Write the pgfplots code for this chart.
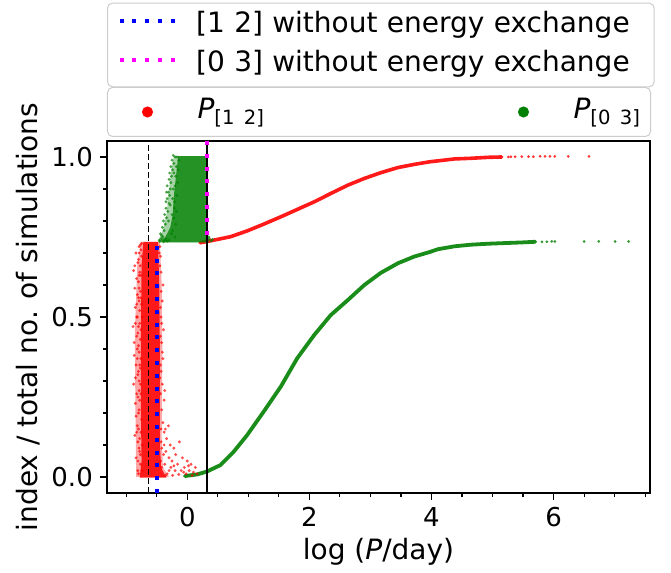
\documentclass[border=0pt]{standalone}
\usepackage{fontspec}
\setmainfont{DejaVu Sans}
\usepackage{pgfplots}
\pgfplotsset{compat=1.18}
\definecolor{mplgreen}{RGB}{0,128,0}
\definecolor{mplred}{RGB}{255,0,0}
\definecolor{mplblue}{RGB}{0,0,255}
\definecolor{mplmag}{RGB}{255,0,255}
\definecolor{legframe}{RGB}{204,204,204}
\newcommand{\labfont}{\fontsize{28bp}{32bp}\selectfont}
\newcommand{\tickfont}{\fontsize{26bp}{30bp}\selectfont}
\newcommand{\subfont}{\fontsize{19.6bp}{22bp}\selectfont}
\pgfplotsset{
  myaxis/.style={
    at={(107bp,80bp)}, anchor=south west,
    scale only axis, width=543bp, height=352bp,
    xmin=-1.316, xmax=7.58, ymin=-0.05, ymax=1.05,
  },
  legframe/.style={
    draw=legframe, line width=1bp, rounded corners=5bp, fill=white,
  },
}
\begin{document}
\begin{tikzpicture}
\useasboundingbox (0,0) rectangle (671bp,573bp);
\begin{axis}[myaxis,
  axis line style={line width=1.1bp},
  every tick/.style={line width=1.1bp, black},
  tick align=outside,
  major tick length=7bp, minor tick length=4bp,
  tick pos=left,
  xtick={0,2,4,6},
  minor xtick={-1,-0.5,0.5,1,1.5,2.5,3,3.5,4.5,5,5.5,6.5,7,7.5},
  ytick={0,0.5,1},
  minor ytick={0.1,0.2,0.3,0.4,0.6,0.7,0.8,0.9},
  /pgf/number format/assume math mode=true,
  xticklabel style={font=\tickfont, anchor=north, inner sep=0pt, yshift=-7bp},
  yticklabel style={font=\tickfont, anchor=east, inner sep=0pt, xshift=-7bp,
    /pgf/number format/.cd, fixed, fixed zerofill, precision=1},
  xlabel={log (\textit{P}/day)},
  xlabel style={at={(axis description cs:0.5,-0.1884)}, anchor=base, font=\labfont},
  ylabel={index / total no. of simulations},
  ylabel style={at={(axis description cs:-0.1271,0.5)}, anchor=base, font=\labfont},
  legend columns=2,
  legend style={legframe, at={(axis description cs:0,1.0114)}, anchor=south west,
    inner xsep=10bp, inner ysep=10.5bp, column sep=20bp,
    /tikz/every even column/.append style={column sep=229bp},
    nodes={inner sep=0pt, text width=67bp, align=left, text height=21bp, text depth=7bp, font=\labfont}},
]
% ---- P[1 2] : cloud, outer (less dense) band and dense core
\addplot[fill=mplred, draw=none, fill opacity=0.35, forget plot] coordinates {
(-0.84,0.0) (-0.30,0.0) (-0.40,0.03) (-0.42,0.12) (-0.41,0.40) (-0.42,0.60)
(-0.45,0.735) (-0.76,0.735) (-0.82,0.66) (-0.86,0.45) (-0.85,0.20) (-0.84,0.05)
} -- cycle;
\addplot[fill=mplred, draw=none, fill opacity=0.85, forget plot] coordinates {
(-0.78,-0.002) (-0.34,-0.002) (-0.38,0.01) (-0.43,0.03) (-0.45,0.10) (-0.45,0.40)
(-0.46,0.60) (-0.48,0.735) (-0.72,0.735) (-0.75,0.66) (-0.76,0.45) (-0.76,0.20) (-0.75,0.05)
} -- cycle;
% ---- P[1 2] : sorted part
\addplot[mplred, line width=3.6bp, opacity=0.9, line cap=round, line join=round, forget plot] coordinates {
(0.21,0.732) (0.43,0.740) (0.71,0.751) (0.98,0.769) (1.25,0.790) (1.53,0.813) (1.80,0.836)
(2.08,0.860) (2.35,0.886) (2.63,0.912) (2.90,0.933) (3.17,0.951) (3.45,0.967) (3.72,0.977)
(3.97,0.985) (4.11,0.988) (4.38,0.994) (4.65,0.996) (4.93,0.999) (5.15,1.000)
};
\addplot[color=mplred, only marks, mark=*, mark size=1.5bp, mark options={draw opacity=0, fill opacity=0.8}, forget plot] coordinates {
(5.26,1.000) (5.30,1.001) (5.37,1.001) (5.48,1.001) (5.59,1.001) (5.67,1.001) (5.78,1.002)
(5.86,1.002) (5.94,1.002) (6.02,1.002) (6.24,1.002) (6.58,1.002)
};
% ---- P[1 2] : scattered points round the cloud
\addplot[color=mplred, only marks, mark=*, mark size=1.6bp, mark options={draw opacity=0, fill opacity=0.7},
  legend image code/.code={\path[draw=none, fill=none] (0bp,-6bp) rectangle (60bp,6bp); \fill[mplred] (30bp,0bp) circle (5bp);}] coordinates {
(-0.81,0.02) (-0.84,0.06) (-0.79,0.09) (-0.86,0.13) (-0.82,0.16) (-0.80,0.20) (-0.85,0.23)
(-0.83,0.26) (-0.88,0.29) (-0.81,0.32) (-0.84,0.35) (-0.87,0.38) (-0.80,0.41) (-0.83,0.44)
(-0.89,0.47) (-0.82,0.50) (-0.85,0.53) (-0.80,0.56) (-0.86,0.59) (-0.83,0.62) (-0.88,0.645)
(-0.81,0.67) (-0.79,0.70) (-0.77,0.725) (-0.84,0.19) (-0.82,0.37) (-0.85,0.48) (-0.80,0.61)
(-0.87,0.42) (-0.81,0.11) (-0.83,0.54) (-0.79,0.30) (-0.86,0.66) (-0.80,0.47)
(-0.77,0.04) (-0.76,0.14) (-0.78,0.24) (-0.77,0.34) (-0.79,0.39) (-0.76,0.46) (-0.78,0.52)
(-0.77,0.58) (-0.76,0.63) (-0.75,0.69) (-0.78,0.12) (-0.79,0.27) (-0.77,0.43) (-0.78,0.64)
(-0.76,0.71) (-0.80,0.15) (-0.79,0.55) (-0.78,0.08)
(-0.74,0.02) (-0.77,0.07) (-0.81,0.05) (-0.75,0.18) (-0.79,0.21) (-0.83,0.14) (-0.77,0.29)
(-0.80,0.33) (-0.76,0.37) (-0.82,0.40) (-0.78,0.48) (-0.81,0.45) (-0.75,0.54) (-0.79,0.59)
(-0.82,0.57) (-0.77,0.66) (-0.80,0.68) (-0.75,0.73) (-0.79,0.72) (-0.84,0.70) (-0.81,0.25)
(-0.85,0.31) (-0.78,0.35) (-0.83,0.50) (-0.79,0.63) (-0.74,0.10) (-0.76,0.26) (-0.74,0.50)
(-0.76,0.56) (-0.80,0.01)
(-0.42,0.03) (-0.39,0.07) (-0.43,0.11) (-0.40,0.17) (-0.42,0.21) (-0.38,0.24) (-0.41,0.29)
(-0.43,0.33) (-0.40,0.37) (-0.42,0.42) (-0.39,0.46) (-0.43,0.50) (-0.41,0.55) (-0.40,0.60)
(-0.43,0.64) (-0.44,0.69) (-0.45,0.72) (-0.38,0.14) (-0.37,0.27) (-0.41,0.39)
(-0.44,0.05) (-0.43,0.15) (-0.44,0.26) (-0.45,0.31) (-0.44,0.44) (-0.43,0.58) (-0.45,0.66)
(-0.46,0.70) (-0.44,0.53) (-0.42,0.48) (-0.44,0.35) (-0.42,0.09)
(-0.36,0.15) (-0.31,0.16) (-0.34,0.12) (-0.28,0.10) (-0.22,0.09) (-0.13,0.11) (-0.19,0.07)
(-0.35,0.08) (-0.30,0.06) (-0.25,0.05) (-0.16,0.04) (-0.08,0.06) (-0.05,0.03) (0.00,0.05)
(0.03,0.02) (0.06,0.04) (0.10,0.015) (0.13,0.03) (0.16,0.01) (-0.02,0.01) (-0.10,0.02)
(-0.20,0.02) (-0.27,0.03) (-0.37,0.04) (-0.33,0.01) (-0.24,0.005) (0.08,0.005) (-0.14,0.008)
(-0.30,0.02) (-0.36,0.005) (-0.06,0.015) (0.02,0.035) (-0.22,0.035) (-0.38,0.10)
};
\addlegendentry{\textit{P}\raisebox{-6bp}{\subfont[1 2]}}
% ---- P[0 3] : cloud, outer (less dense) band and dense core
\addplot[fill=mplgreen, draw=none, fill opacity=0.35, forget plot] coordinates {
(-0.46,0.733) (0.36,0.733) (0.33,0.75) (0.33,1.003) (-0.22,1.003) (-0.27,0.95)
(-0.31,0.88) (-0.34,0.82) (-0.40,0.77) (-0.46,0.745)
} -- cycle;
\addplot[fill=mplgreen, draw=none, fill opacity=0.78, forget plot] coordinates {
(-0.40,0.733) (0.33,0.733) (0.33,1.003) (-0.15,1.003) (-0.18,0.95) (-0.22,0.88)
(-0.24,0.82) (-0.28,0.78) (-0.36,0.75) (-0.40,0.74)
} -- cycle;
% ---- P[0 3] : sorted part
\addplot[mplgreen, line width=3.8bp, opacity=0.9, line cap=round, line join=round, forget plot] coordinates {
(-0.04,0.003) (0.16,0.008) (0.32,0.017) (0.54,0.037) (0.76,0.079) (0.98,0.131) (1.25,0.204)
(1.53,0.282) (1.80,0.371) (2.08,0.444) (2.35,0.506) (2.63,0.553) (2.90,0.600) (3.17,0.638)
(3.45,0.668) (3.72,0.689) (3.97,0.703) (4.11,0.712) (4.38,0.721) (4.65,0.726) (4.93,0.729)
(5.20,0.731) (5.48,0.733) (5.70,0.735)
};
\addplot[color=mplgreen, only marks, mark=*, mark size=1.5bp, mark options={draw opacity=0, fill opacity=0.8}, forget plot] coordinates {
(5.81,0.735) (5.89,0.735) (5.97,0.736) (6.02,0.736) (6.50,0.736) (6.74,0.736) (7.01,0.736) (7.23,0.736)
};
% ---- P[0 3] : scattered points round the cloud
\addplot[color=mplgreen, only marks, mark=*, mark size=1.6bp, mark options={draw opacity=0, fill opacity=0.7},
  legend image code/.code={\path[draw=none, fill=none] (0bp,-6bp) rectangle (60bp,6bp); \fill[mplgreen] (30bp,0bp) circle (5bp);}] coordinates {
(-0.46,0.74) (-0.43,0.745) (-0.40,0.75) (-0.44,0.76) (-0.38,0.77) (-0.41,0.78) (-0.36,0.79)
(-0.39,0.80) (-0.34,0.81) (-0.37,0.82) (-0.32,0.83) (-0.35,0.84) (-0.30,0.855) (-0.33,0.87)
(-0.29,0.88) (-0.31,0.89) (-0.28,0.90) (-0.33,0.91) (-0.27,0.92) (-0.30,0.93) (-0.26,0.94)
(-0.29,0.95) (-0.24,0.96) (-0.27,0.97) (-0.22,0.98) (-0.25,0.99) (-0.20,1.0) (-0.23,1.005)
(-0.35,0.86) (-0.31,0.80) (-0.42,0.755) (-0.28,0.85) (-0.34,0.89)
(-0.20,0.75) (-0.24,0.77) (-0.19,0.79) (-0.22,0.81) (-0.18,0.83) (-0.21,0.86) (-0.17,0.88)
(-0.23,0.90) (-0.16,0.92) (-0.19,0.94) (-0.15,0.96) (-0.18,0.97) (-0.14,0.99) (-0.17,1.0)
(-0.26,0.76) (-0.25,0.82) (-0.21,0.84) (-0.24,0.87) (-0.20,0.91) (-0.22,0.95)
(-0.45,0.736) (-0.42,0.738) (-0.39,0.735) (-0.36,0.739) (-0.33,0.737) (-0.30,0.74) (-0.40,0.742) (-0.35,0.744)
(0.34,0.74) (0.36,0.745) (0.39,0.738) (0.41,0.742) (0.35,0.75) (0.33,0.76)
};
\addlegendentry{\textit{P}\raisebox{-6bp}{\subfont[0 3]}}
\end{axis}
% ---- reference lines, drawn over the points
\begin{axis}[myaxis, hide axis,
  legend style={legframe, at={(axis description cs:0,1.1526)}, anchor=south west,
    inner xsep=10bp, inner ysep=8.6bp, column sep=19.7bp, row sep=10.4bp,
    nodes={inner sep=0pt, text width=448bp, align=left, text height=21bp, text depth=7bp, font=\labfont}},
  legend image code/.code={\draw[#1] (0bp,4.6bp) -- (55bp,4.6bp);},
]
\addplot[black, line width=1.5bp, dash pattern=on 6bp off 3bp, forget plot] coordinates {(-0.64,-0.05) (-0.64,1.05)};
\addplot[black, line width=1.5bp, forget plot] coordinates {(0.32,-0.05) (0.32,1.05)};
\addplot[mplblue, line width=4bp, dash pattern=on 4bp off 8.8bp] coordinates {(-0.50,-0.05) (-0.50,0.724)};
\addlegendentry{{[}1 2{]} without energy exchange}
\addplot[mplmag, line width=4bp, dash pattern=on 4bp off 8.8bp] coordinates {(0.32,1.05) (0.32,0.74)};
\addlegendentry{{[}0 3{]} without energy exchange}
\end{axis}
\end{tikzpicture}
\end{document}
